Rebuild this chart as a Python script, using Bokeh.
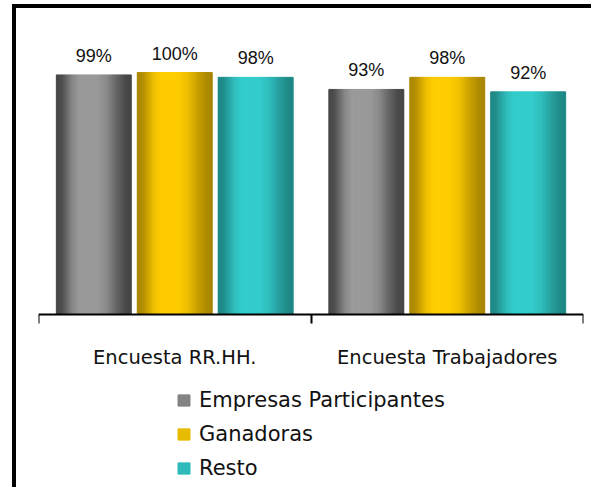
from bokeh.plotting import figure
from bokeh.models import ColumnDataSource, Range1d, FixedTicker, LinearAxis, Legend, LegendItem
from bokeh.core.properties import value
from bokeh.embed import file_html
from bokeh.resources import INLINE

# ---- data ----
categories = ["Encuesta RR.HH.", "Encuesta Trabajadores"]
series_names = ["Empresas Participantes", "Ganadoras", "Resto"]
empresas = [99, 93]
ganadoras = [100, 98]
resto = [98, 92]
series_values = [empresas, ganadoras, resto]

# ---- styles ----
dark = ["#444444", "#a88600", "#1e8784"]
light = ["#9a9a9a", "#ffcc00", "#33cccc"]
offsets = [-0.297, 0.0, 0.297]
bar_w = 0.275
n_strips = 75
legend_strip = 52  # strip whose colour is used for the legend swatch
stops = [(0.0, 0.0), (0.08, 0.12), (0.22, 0.78), (0.32, 1.0), (0.55, 1.0),
         (0.68, 0.8), (0.82, 0.35), (0.92, 0.08), (1.0, 0.0)]


def profile(t):
    for (t0, v0), (t1, v1) in zip(stops[:-1], stops[1:]):
        if t0 <= t <= t1:
            return v0 + (v1 - v0) * (t - t0) / (t1 - t0)
    return 0.0


def mix(c0, c1, f):
    a = [int(c0[i:i + 2], 16) for i in (1, 3, 5)]
    b = [int(c1[i:i + 2], 16) for i in (1, 3, 5)]
    return "#%02x%02x%02x" % tuple(round(x + (y - x) * f) for x, y in zip(a, b))


sx, stop_, sw, sc = [], [], [], []
lx, ly, lt = [], [], []
legend_index = []
for si, vals in enumerate(series_values):
    for gi, v in enumerate(vals):
        cx = gi + 0.5 + offsets[si]
        left = cx - bar_w / 2
        if gi == 0:
            legend_index.append(len(sx) + legend_strip)
        for k in range(n_strips):
            t = (k + 0.5) / n_strips
            sx.append(left + t * bar_w)
            stop_.append(v)
            sw.append(bar_w / n_strips)
            sc.append(mix(dark[si], light[si], profile(t)))
        lx.append(cx)
        ly.append(v)
        lt.append(f"{v}%")

strip_src = ColumnDataSource(dict(x=sx, top=stop_, w=sw, color=sc))
label_src = ColumnDataSource(dict(x=lx, y=ly, text=lt))

p = figure(width=579, height=483,
           x_range=Range1d(0, 2), y_range=Range1d(-73.14, 126.45),
           x_axis_type=None, y_axis_type=None,
           output_backend="svg", toolbar_location=None,
           min_border_left=22, min_border_right=12,
           min_border_top=0, min_border_bottom=0,
           styles={"margin-left": "12px", "margin-top": "4px",
                   "border-left": "4px solid #000",
                   "border-top": "4px solid #000"})
p.outline_line_color = None
p.background_fill_color = "white"
p.border_fill_color = "white"

bars = p.vbar(x="x", top="top", bottom=0, width="w", source=strip_src,
              fill_color="color", line_color="color", line_width=1)

p.text(x="x", y="y", text="text", source=label_src,
       text_align="center", text_baseline="alphabetic", y_offset=-19,
       text_font=value("Liberation Sans"), text_font_size="18px",
       text_color="#111111")

ax = LinearAxis(ticker=FixedTicker(ticks=[0.5, 1.5], minor_ticks=[0, 1, 2]),
                major_label_overrides={0.5: categories[0], 1.5: categories[1]},
                fixed_location=0)
ax.axis_line_width = 2
ax.axis_line_color = "#000000"
ax.major_tick_out = 0
ax.major_tick_in = 0
ax.minor_tick_out = 9
ax.minor_tick_in = 0
ax.minor_tick_line_width = 2
ax.minor_tick_line_color = "#000000"
ax.major_label_text_font = "DejaVu Sans"
ax.major_label_text_font_size = "19.5px"
ax.major_label_text_color = "#111111"
ax.major_label_standoff = 22
p.add_layout(ax, "below")

items = [LegendItem(label=name, renderers=[bars], index=legend_index[si])
         for si, name in enumerate(series_names)]

legend = Legend(items=items, location=(138, 11), orientation="vertical",
                glyph_width=15, glyph_height=14, label_standoff=8,
                label_text_font="DejaVu Sans", label_text_font_size="21px",
                label_text_color="#111111",
                spacing=10, padding=0, margin=0,
                border_line_color=None, background_fill_alpha=0)
p.add_layout(legend)

open("out.html", "w").write(file_html(p, INLINE))
